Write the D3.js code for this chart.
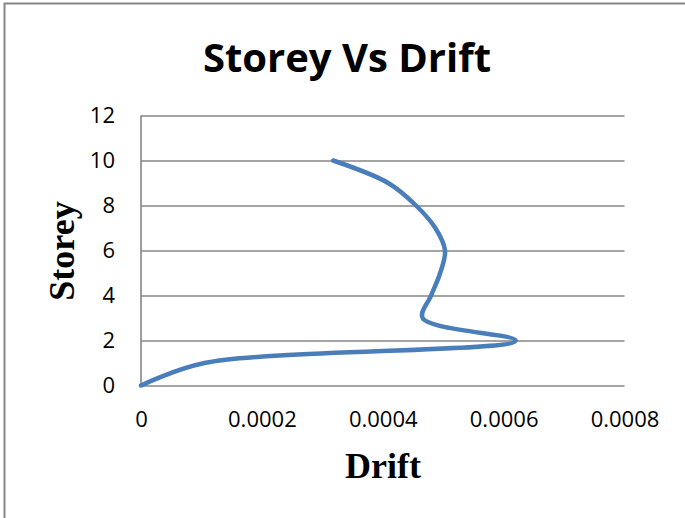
<!DOCTYPE html>
<html>
    <head>
        <script type="text/javascript" src="https://d3js.org/d3.v7.min.js" charset="utf-8"></script>
        <style>
            body { margin: 0; background: #fff; }
        </style>
    </head>
    <body>
        <script>
            const WIDTH = 685;
            const HEIGHT = 518;

            // chart values
            const storeys = [0, 1, 2, 3, 4, 5, 6, 7, 8, 9, 10];
            const drifts = [0, 0.000105, 0.00062, 0.000466, 0.00048, 0.000495, 0.000503, 0.000487, 0.000455, 0.000409, 0.000318];
            const xTicks = [0, 0.0002, 0.0004, 0.0006, 0.0008];
            const xTickLabels = ['0', '0.0002', '0.0004', '0.0006', '0.0008'];
            const yTicks = [0, 2, 4, 6, 8, 10, 12];

            const TITLE = 'Storey Vs Drift';
            const X_TITLE = 'Drift';
            const Y_TITLE = 'Storey';

            const PLOT_LEFT = 141;
            const PLOT_RIGHT = 624.5;
            const PLOT_TOP = 115.5;
            const PLOT_BOTTOM = 385.5;

            const GRID_COLOR = '#868686';
            const LINE_COLOR = '#4a7ebb';
            const SANS = "'Open Sans', 'Liberation Sans', sans-serif";
            const SERIF = "'Liberation Serif', 'DejaVu Serif', serif";

            let svg = d3.select('body')
                .append('svg')
                .attr('width', WIDTH)
                .attr('height', HEIGHT);

            // outer chart border (cropped on the right and bottom)
            svg.append('rect')
                .attr('x', 4.5)
                .attr('y', 3.5)
                .attr('width', WIDTH + 10)
                .attr('height', HEIGHT + 10)
                .attr('fill', 'white')
                .attr('stroke', GRID_COLOR)
                .attr('stroke-width', 2);

            let xScale = d3.scaleLinear()
                .domain([0, 0.0008])
                .range([PLOT_LEFT, PLOT_RIGHT]);
            let yScale = d3.scaleLinear()
                .domain([0, 12])
                .range([PLOT_BOTTOM, PLOT_TOP]);

            // horizontal gridlines
            let yAxis = svg.append('g')
                .attr('transform', 'translate(' + PLOT_LEFT + ',0)')
                .call(d3.axisLeft(yScale)
                    .tickValues(yTicks)
                    .tickSize(-(PLOT_RIGHT - PLOT_LEFT))
                    .tickPadding(26)
                    .tickFormat(d3.format('d')));
            yAxis.select('.domain').remove();
            yAxis.selectAll('line')
                .attr('stroke', GRID_COLOR)
                .attr('stroke-width', 1.6);
            yAxis.selectAll('text')
                .attr('fill', '#000')
                .style('font-family', SANS)
                .style('font-size', '22px');

            // vertical axis line
            svg.append('line')
                .attr('x1', PLOT_LEFT)
                .attr('x2', PLOT_LEFT)
                .attr('y1', PLOT_TOP)
                .attr('y2', PLOT_BOTTOM)
                .attr('stroke', GRID_COLOR)
                .attr('stroke-width', 1.6);

            let xAxis = svg.append('g')
                .attr('transform', 'translate(0,' + PLOT_BOTTOM + ')')
                .call(d3.axisBottom(xScale)
                    .tickValues(xTicks)
                    .tickSize(0)
                    .tickPadding(26)
                    .tickFormat(function(d, i){ return xTickLabels[i]; }));
            xAxis.select('.domain').remove();
            xAxis.selectAll('text')
                .attr('fill', '#000')
                .style('font-family', SANS)
                .style('font-size', '22px');

            // series (smoothed line)
            let points = storeys.map(function(s, i){ return [drifts[i], s]; });
            let line = d3.line()
                .x(function(d){ return xScale(d[0]); })
                .y(function(d){ return yScale(d[1]); })
                .curve(d3.curveCatmullRom.alpha(0.5));
            svg.append('path')
                .datum(points)
                .attr('d', line)
                .attr('fill', 'none')
                .attr('stroke', LINE_COLOR)
                .attr('stroke-width', 4.5)
                .attr('stroke-linecap', 'round')
                .attr('stroke-linejoin', 'round');

            // titles
            svg.append('text')
                .attr('x', 347)
                .attr('y', 72)
                .attr('text-anchor', 'middle')
                .style('font-family', SANS)
                .style('font-weight', 'bold')
                .style('font-size', '40px')
                .text(TITLE);

            svg.append('text')
                .attr('x', 383)
                .attr('y', 478)
                .attr('text-anchor', 'middle')
                .style('font-family', SERIF)
                .style('font-weight', 'bold')
                .style('font-size', '36px')
                .text(X_TITLE);

            svg.append('text')
                .attr('transform', 'translate(74,251) rotate(-90)')
                .attr('text-anchor', 'middle')
                .style('font-family', SERIF)
                .style('font-weight', 'bold')
                .style('font-size', '36px')
                .text(Y_TITLE);
        </script>
    </body>
</html>
